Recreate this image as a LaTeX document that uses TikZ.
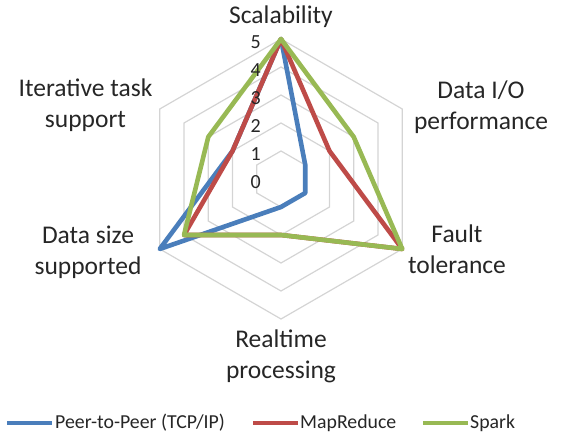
\documentclass[tikz,border=0pt]{standalone}
\usepackage{fontspec}
\setmainfont{Carlito}
\definecolor{sblue}{HTML}{4A7EBB}
\definecolor{sred}{HTML}{BE4B48}
\definecolor{sgreen}{HTML}{98B954}
\definecolor{txt}{HTML}{262626}
\begin{document}
\begin{tikzpicture}[x=1pt,y=1pt,
  gridline/.style={draw=black!17, line width=1.2pt},
  serie/.style={line width=4.6pt, line join=round},
  axlabel/.style={font=\fontsize{25.5}{31}\selectfont, text=txt, align=center, inner sep=0pt},
  ticklabel/.style={font=\fontsize{20}{22}\selectfont, text=txt, anchor=east, inner sep=0pt},
  legtext/.style={font=\fontsize{19.8}{22}\selectfont, text=txt, anchor=base west, inner sep=0pt},
  legline/.style={line width=3.8pt}]
\useasboundingbox (0,0) rectangle (567,436);
\coordinate (O) at (281,257);
% grid rings
\foreach \r in {28,56,84,112,140}{
  \draw[gridline] ([shift={(90:\r)}]O) -- ([shift={(30:\r)}]O) -- ([shift={(-30:\r)}]O)
    -- ([shift={(-90:\r)}]O) -- ([shift={(210:\r)}]O) -- ([shift={(150:\r)}]O) -- cycle;
}
% series: Scalability, Data I/O, Fault tolerance, Realtime, Data size, Iterative
\draw[serie, sblue] ([shift={(90:140)}]O) -- ([shift={(30:28)}]O) -- ([shift={(-30:28)}]O)
  -- ([shift={(-90:28)}]O) -- ([shift={(210:140)}]O) -- ([shift={(150:56)}]O) -- cycle;
\draw[serie, sred] ([shift={(90:140)}]O) -- ([shift={(30:56)}]O) -- ([shift={(-30:140)}]O)
  -- ([shift={(-90:56)}]O) -- ([shift={(210:112)}]O) -- ([shift={(150:56)}]O) -- cycle;
\draw[serie, sgreen] ([shift={(90:140)}]O) -- ([shift={(30:84)}]O) -- ([shift={(-30:140)}]O)
  -- ([shift={(-90:56)}]O) -- ([shift={(210:112)}]O) -- ([shift={(150:84)}]O) -- cycle;
% tick labels
\foreach \v in {0,...,5}{
  \node[ticklabel] (tick\v) at (261,{257+28*\v-3}) {\v};
}
% axis labels
\node[axlabel] (scal) at (281,419.5) {Scalability};
\node[axlabel] (dio) at (481,329) {Data I/O\\performance};
\node[axlabel] (ft) at (457,186.5) {Fault\\tolerance};
\node[axlabel] (rt) at (281,80) {Realtime\\processing};
\node[axlabel] (ds) at (88,183.5) {Data size\\supported};
\node[axlabel] (it) at (85.5,331) {Iterative task\\support};
% legend
\coordinate (l1a) at (7,13.3); \coordinate (l1b) at (52,13.3);
\coordinate (l2a) at (253,13.3); \coordinate (l2b) at (298,13.3);
\coordinate (l3a) at (423,13.3); \coordinate (l3b) at (468,13.3);
\draw[legline, sblue] (l1a) -- (l1b);
\draw[legline, sred] (l2a) -- (l2b);
\draw[legline, sgreen] (l3a) -- (l3b);
\node[legtext] (leg1) at (55,7.5) {Peer-to-Peer (TCP/IP)};
\node[legtext] (leg2) at (300,7.5) {MapReduce};
\node[legtext] (leg3) at (470,7.5) {Spark};
\end{tikzpicture}
\end{document}
